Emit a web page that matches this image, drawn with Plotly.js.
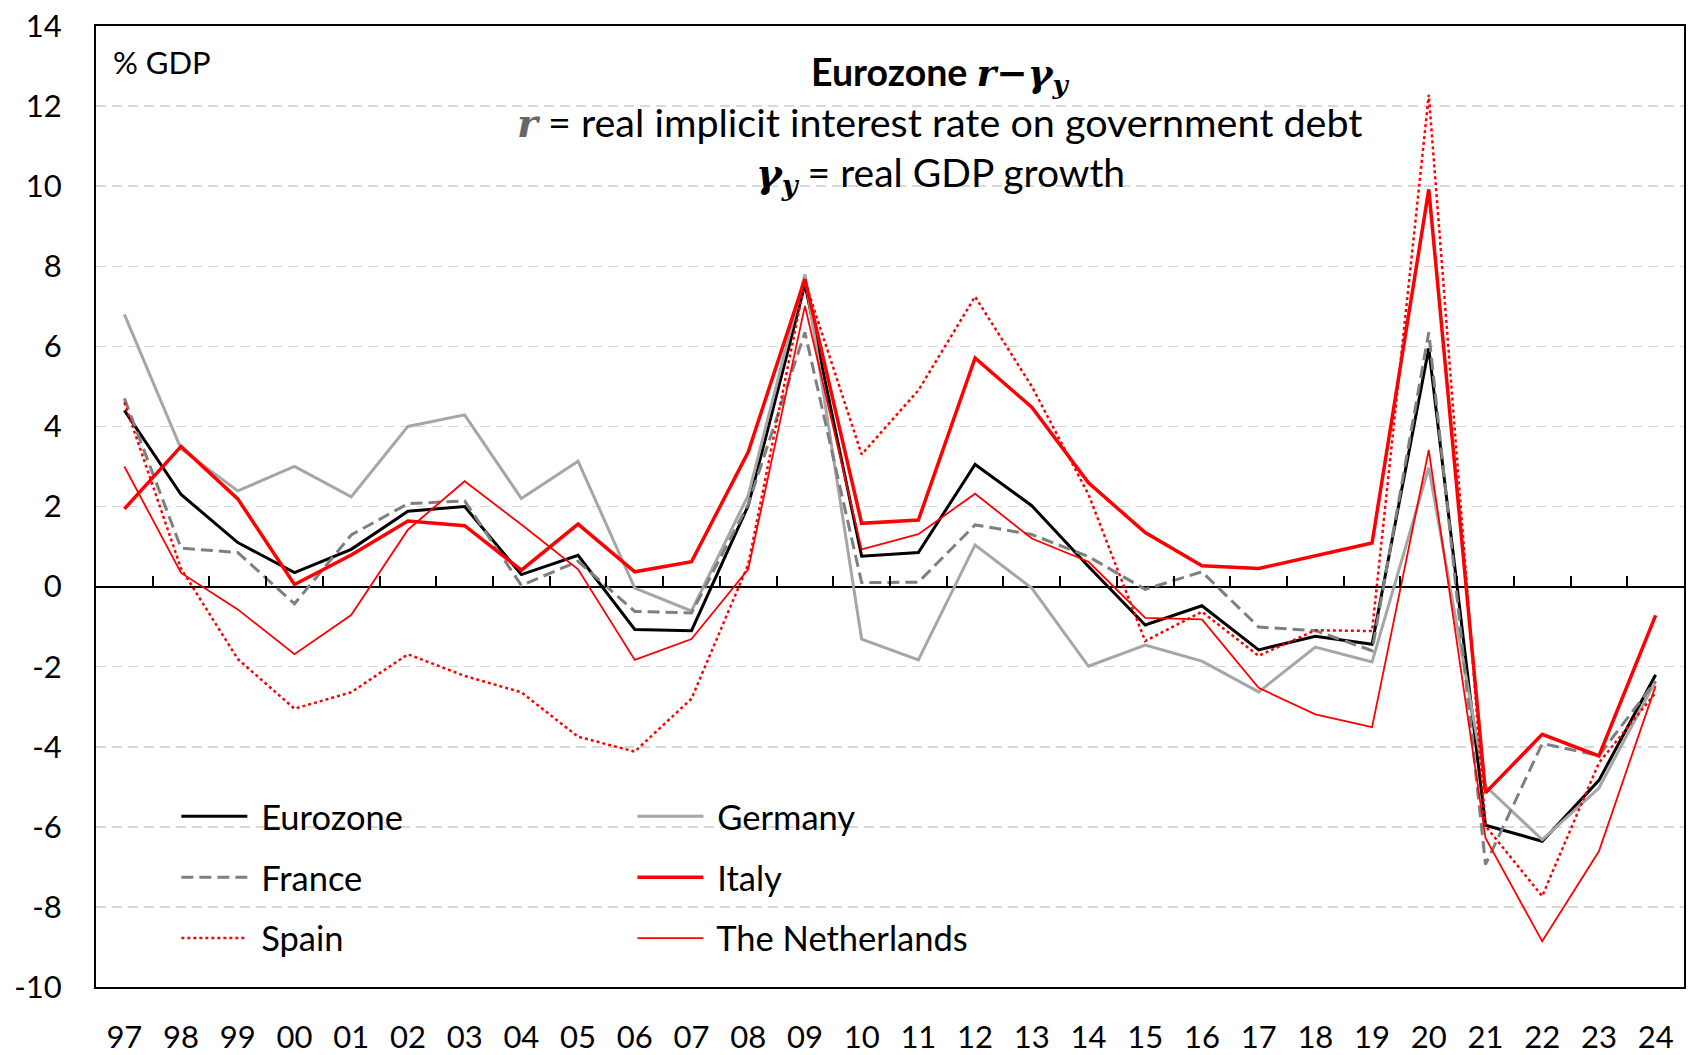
<!DOCTYPE html>
<html>
<head>
<meta charset="utf-8">
<script src="https://cdn.plot.ly/plotly-3.0.1.min.js"></script>
<style>
  html, body { margin: 0; padding: 0; background: #ffffff; }
  #chart { width: 1691px; height: 1055px; }
</style>
</head>
<body>
<div id="chart"></div>
<script>
// ---------- data ----------
const years = ['97','98','99','00','01','02','03','04','05','06','07','08','09','10','11','12','13','14','15','16','17','18','19','20','21','22','23','24'];

const eurozone    = [4.4, 2.3, 1.1, 0.35, 0.93, 1.88, 2.0, 0.3, 0.78, -1.07, -1.1, 2.02, 7.55, 0.76, 0.85, 3.05, 2.02, 0.5, -0.96, -0.48, -1.58, -1.24, -1.44, 5.95, -5.96, -6.36, -4.84, -2.2];
const germany     = [6.8, 3.44, 2.39, 3.0, 2.24, 4.0, 4.29, 2.2, 3.13, -0.04, -0.61, 2.28, 7.8, -1.31, -1.83, 1.04, -0.04, -1.99, -1.46, -1.86, -2.63, -1.51, -1.88, 2.97, -4.98, -6.32, -5.03, -2.36];
const france      = [4.7, 0.96, 0.85, -0.43, 1.29, 2.07, 2.14, 0.03, 0.63, -0.62, -0.66, 2.05, 6.35, 0.1, 0.11, 1.54, 1.3, 0.75, -0.07, 0.37, -1.01, -1.1, -1.6, 6.35, -6.94, -3.92, -4.22, -2.36];
const italy       = [1.94, 3.5, 2.19, 0.05, 0.79, 1.64, 1.52, 0.41, 1.56, 0.37, 0.62, 3.36, 7.68, 1.58, 1.66, 5.71, 4.48, 2.59, 1.35, 0.52, 0.45, 0.78, 1.09, 9.92, -5.15, -3.69, -4.23, -0.72];
const spain       = [4.6, 0.45, -1.81, -3.05, -2.64, -1.69, -2.23, -2.64, -3.75, -4.12, -2.8, 0.55, 7.63, 3.3, 4.9, 7.24, 5.0, 2.3, -1.36, -0.63, -1.73, -1.09, -1.11, 12.28, -5.98, -7.73, -4.4, -2.65];
const netherlands = [3.0, 0.34, -0.57, -1.69, -0.71, 1.42, 2.63, 1.55, 0.43, -1.83, -1.31, 0.43, 7.01, 0.93, 1.31, 2.32, 1.2, 0.62, -0.78, -0.82, -2.53, -3.19, -3.51, 3.41, -6.28, -8.86, -6.61, -2.48];

const yTickVals   = [-10, -8, -6, -4, -2, 0, 2, 4, 6, 8, 10, 12, 14];
const yTickLabels = ['-10', '-8', '-6', '-4', '-2', '0', '2', '4', '6', '8', '10', '12', '14'];

// ---------- chart ----------
const FONT = 'Lato, "Open Sans", sans-serif';
const SERIF = "'DejaVu Serif', serif";
const yRange = [-10, 14];
const xRange = [-0.5, years.length - 0.5];
const NBSP = '\u00a0';

function series(name, y, color, width, dash, legendId) {
  return {
    type: 'scatter', mode: 'lines', name: NBSP + name, x: years, y: y,
    line: { color: color, width: width, dash: dash },
    legend: legendId, legendgroup: name, hoverinfo: 'skip'
  };
}

const traces = [
  series('Eurozone', eurozone, '#000000', 3, 'solid', 'legend'),
  series('Germany', germany, '#a6a6a6', 3, 'solid', 'legend2'),
  series('France', france, '#7f7f7f', 3, '12px,6px', 'legend'),
  series('Italy', italy, '#ff0000', 3.5, 'solid', 'legend2'),
  series('Spain', spain, '#ff0000', 2.5, 'dot', 'legend'),
  series('The Netherlands', netherlands, '#ff0000', 1.8, 'solid', 'legend2'),
  // invisible helper so the zero-line tick axis (x2) is built
  { type: 'scatter', mode: 'lines', x: [xRange[0]], y: [null], xaxis: 'x2', yaxis: 'y',
    showlegend: false, hoverinfo: 'skip', line: { width: 0 } }
];

const boundaryTicks = years.slice(1).map((_, i) => i + 0.5);

const legendCommon = {
  orientation: 'v', bgcolor: 'rgba(0,0,0,0)', borderwidth: 0,
  font: { family: FONT, size: 34.5, color: '#000' },
  itemwidth: 66, tracegroupgap: 13, yanchor: 'top', xanchor: 'left'
};

const layout = {
  width: 1691, height: 1055,
  margin: { l: 96, r: 7, t: 26, b: 68 },
  paper_bgcolor: '#ffffff', plot_bgcolor: '#ffffff',
  font: { family: FONT, color: '#000' },
  showlegend: true,
  xaxis: {
    type: 'category', range: xRange, showline: true, mirror: true, linecolor: '#000', linewidth: 2,
    ticks: '', showgrid: false, zeroline: false,
    tickfont: { family: FONT, size: 31, color: '#000' },
    ticklabelstandoff: 22, fixedrange: true
  },
  xaxis2: {
    type: 'linear', overlaying: 'x', anchor: 'free',
    position: (0 - yRange[0]) / (yRange[1] - yRange[0]),
    range: xRange, side: 'bottom',
    tickmode: 'array', tickvals: boundaryTicks, showticklabels: false,
    ticks: 'inside', ticklen: 11, tickwidth: 2, tickcolor: '#000',
    showline: false, showgrid: false, zeroline: false, fixedrange: true
  },
  yaxis: {
    range: yRange, tickmode: 'array', tickvals: yTickVals, ticktext: yTickLabels,
    showline: true, mirror: true, linecolor: '#000', linewidth: 2,
    ticks: '', showgrid: true, gridcolor: '#d9d9d9', gridwidth: 1.5, griddash: '10px,6px',
    zeroline: true, zerolinecolor: '#000', zerolinewidth: 2,
    tickfont: { family: FONT, size: 31, color: '#000' },
    ticklabelstandoff: 26, fixedrange: true
  },
  legend: Object.assign({}, legendCommon, { x: 0.0506, y: 0.2077 }),
  legend2: Object.assign({}, legendCommon, { x: 0.3378, y: 0.2077 }),
  shapes: [
    { type: 'rect', layer: 'between', xref: 'paper', yref: 'y', x0: 0.261, x1: 0.808, y0: 9, y1: 13.6,
      fillcolor: '#ffffff', line: { width: 0 } },
    { type: 'rect', layer: 'between', xref: 'paper', yref: 'y', x0: 0.0113, x1: 0.588, y0: -9.8, y1: -5,
      fillcolor: '#ffffff', line: { width: 0 } }
  ],
  annotations: [
    { xref: 'paper', yref: 'paper', x: 0.0094, y: 0.963, xanchor: 'left', yanchor: 'middle',
      text: '% GDP', showarrow: false, font: { family: FONT, size: 31, color: '#000' } },
    { xref: 'paper', yref: 'paper', x: 0.5315, y: 0.950, xanchor: 'center', yanchor: 'middle', showarrow: false,
      text: '<b>Eurozone <span style="font-family:' + SERIF + '"><i>r</i>−<i>γ<sub>y</sub></i></span></b>',
      font: { family: FONT, size: 37.5, color: '#000' } },
    { xref: 'paper', yref: 'paper', x: 0.5315, y: 0.900, xanchor: 'center', yanchor: 'middle', showarrow: false,
      text: '<span style="font-family:' + SERIF + ';fill:#666666"><b><i>r</i></b></span> = real implicit interest rate on government debt',
      font: { family: FONT, size: 39.5, color: '#000' } },
    { xref: 'paper', yref: 'paper', x: 0.5315, y: 0.845, xanchor: 'center', yanchor: 'middle', showarrow: false,
      text: '<span style="font-family:' + SERIF + '"><b><i>γ<sub>y</sub></i></b></span> = real GDP growth',
      font: { family: FONT, size: 39, color: '#000' } }
  ]
};

Plotly.newPlot('chart', traces, layout, { staticPlot: true, displayModeBar: false });
</script>
</body>
</html>
